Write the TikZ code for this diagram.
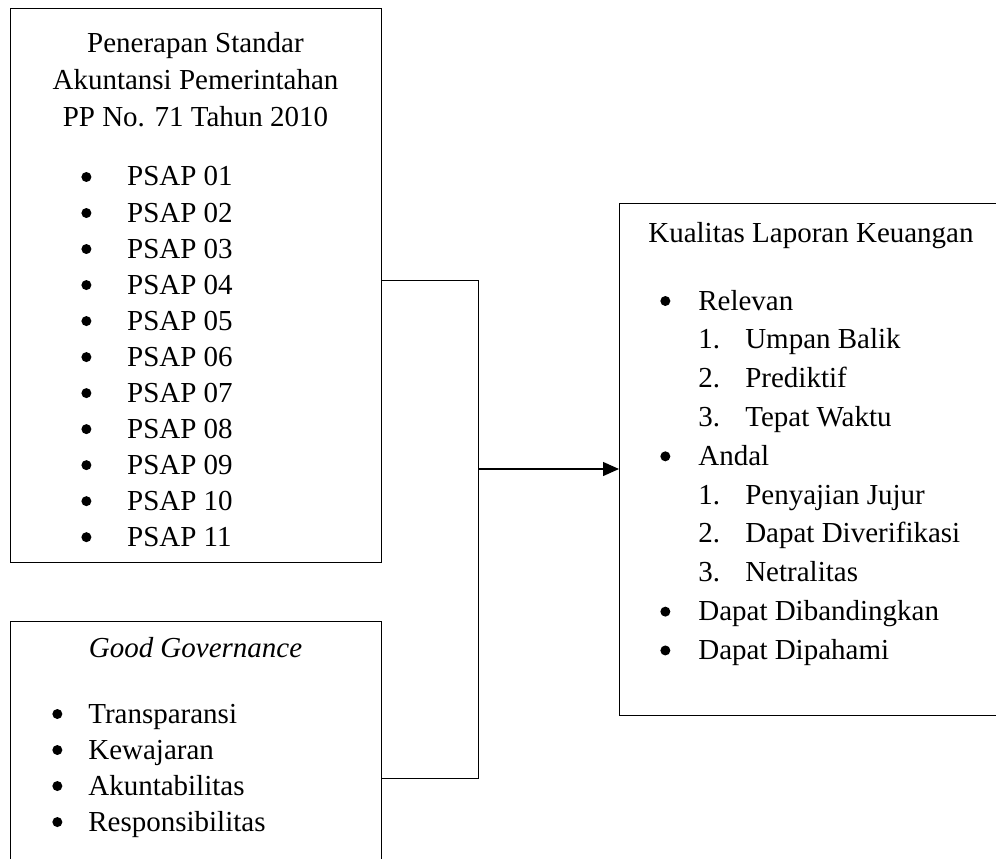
\documentclass[tikz,border=0pt]{standalone}
\usepackage{fontspec}
\setmainfont{Liberation Serif}
\usetikzlibrary{arrows.meta}

\tikzset{
  kotak/.style={draw, line width=0.7pt, inner sep=0pt, anchor=north west},
  isi/.style={inner sep=0pt, anchor=base west, font=\fontsize{16.5}{20.5}\selectfont},
  garis/.style={line width=0.7pt},
}
\newcommand{\butir}[1]{\makebox[#1][c]{\raisebox{0.08cm}{\tikz\fill (0,0) circle (0.1cm);}}}
\newcommand{\nomor}[1]{\makebox[0.94cm][l]{#1}}

\begin{document}
\begin{tikzpicture}[x=0.02cm, y=-0.02cm]
	\useasboundingbox (0,0) rectangle (996,858);
	\clip (0,0) rectangle (996,858);
	% kotak
	\node[kotak, minimum width=7.42cm, minimum height=11.08cm] (sap) at (10,8) {};
	\node[kotak, minimum width=7.42cm, minimum height=6.28cm] (gg) at (10,621) {};
	\node[kotak, minimum width=7.82cm, minimum height=10.24cm] (klk) at (619,203) {};
	% isi kotak SAP
	\node[isi, anchor=base, font=\fontsize{16.5}{20.8}\selectfont] (judulsap) at (195.5,53) {\begin{tabular}[t]{@{}c@{}}
		Penerapan Standar\\
		Akuntansi Pemerintahan\\
		PP No. 71 Tahun 2010
	\end{tabular}};
	\node[isi] (psap) at (45.3,186) {\begin{tabular}[t]{@{}l@{}}
		\butir{1.63cm}PSAP 01\\
		\butir{1.63cm}PSAP 02\\
		\butir{1.63cm}PSAP 03\\
		\butir{1.63cm}PSAP 04\\
		\butir{1.63cm}PSAP 05\\
		\butir{1.63cm}PSAP 06\\
		\butir{1.63cm}PSAP 07\\
		\butir{1.63cm}PSAP 08\\
		\butir{1.63cm}PSAP 09\\
		\butir{1.63cm}PSAP 10\\
		\butir{1.63cm}PSAP 11
	\end{tabular}};
	% isi kotak good governance
	\node[isi, anchor=base] (judulgg) at (195.5,657) {\textit{Good Governance}};
	\node[isi] (prinsip) at (26,723) {\begin{tabular}[t]{@{}l@{}}
		\butir{1.24cm}Transparansi\\
		\butir{1.24cm}Kewajaran\\
		\butir{1.24cm}Akuntabilitas\\
		\butir{1.24cm}Responsibilitas
	\end{tabular}};
	% isi kotak kualitas
	\node[isi] (judulklk) at (648,242) {Kualitas Laporan Keuangan};
	\node[isi, font=\fontsize{16.5}{22.1}\selectfont] (syarat) at (632,310) {\begin{tabular}[t]{@{}l@{}}
		\butir{1.32cm}Relevan\\
		\hspace*{1.32cm}\nomor{1.}Umpan Balik\\
		\hspace*{1.32cm}\nomor{2.}Prediktif\\
		\hspace*{1.32cm}\nomor{3.}Tepat Waktu\\
		\butir{1.32cm}Andal\\
		\hspace*{1.32cm}\nomor{1.}Penyajian Jujur\\
		\hspace*{1.32cm}\nomor{2.}Dapat Diverifikasi\\
		\hspace*{1.32cm}\nomor{3.}Netralitas\\
		\butir{1.32cm}Dapat Dibandingkan\\
		\butir{1.32cm}Dapat Dipahami
	\end{tabular}};
	% garis penghubung
	\coordinate (simpul) at (478.7,469);
	\draw[garis] ([yshift=0.1cm]sap.east) -| (simpul) |- (gg.east);
	\draw[garis, -{Triangle[length=0.32cm, width=0.28cm]}] (simpul) -- (simpul -| klk.west);
\end{tikzpicture}
\end{document}
